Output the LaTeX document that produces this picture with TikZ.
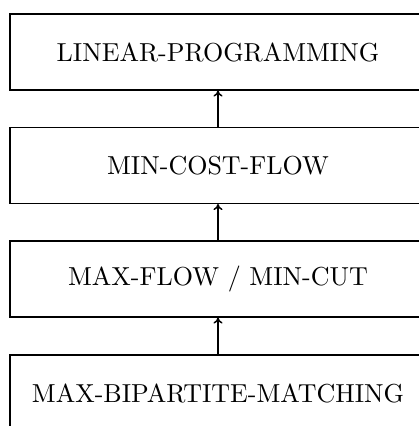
\documentclass[tikz,border=0pt]{standalone}
\usetikzlibrary{arrows.meta}
\newcommand{\algname}[1]{\scalebox{2.6}{#1}}
\begin{document}
\begin{tikzpicture}[x=1pt,y=1pt,
  algbox/.style={draw=black, line width=1.1pt, rectangle, minimum width=416pt, minimum height=76pt, inner sep=0pt},
  reduce/.style={-{To[length=6pt,width=9pt]}, line width=1.5pt}]
\useasboundingbox (0,0) rectangle (418,426);
\node[algbox] (lp) at (218,374) {\algname{LINEAR-PROGRAMMING}};
\node[algbox] (mcf) at (218,260.5) {\algname{MIN-COST-FLOW}};
\node[algbox] (mf) at (218,147) {\algname{MAX-FLOW / MIN-CUT}};
\node[algbox] (bm) at (218,33) {\algname{MAX-BIPARTITE-MATCHING}};
\draw[reduce] (mcf.north) -- (lp.south);
\draw[reduce] (mf.north) -- (mcf.south);
\draw[reduce] (bm.north) -- (mf.south);
\end{tikzpicture}
\end{document}
